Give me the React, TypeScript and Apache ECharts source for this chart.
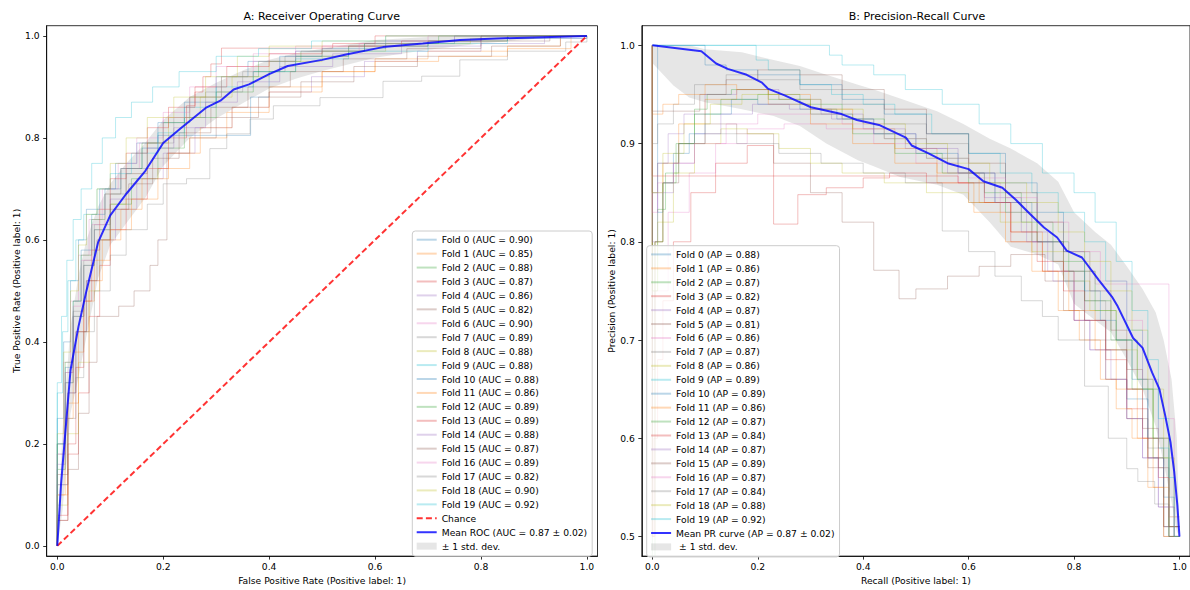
import React, { useEffect, useRef } from "react";
import * as echarts from "echarts";

// matplotlib tab10 cycle used for the per-fold curves
const TAB10 = ["#1f77b4", "#ff7f0e", "#2ca02c", "#d62728", "#9467bd", "#8c564b", "#e377c2", "#7f7f7f", "#bcbd22", "#17becf"];

const rocFoldAuc = [0.90, 0.85, 0.88, 0.87, 0.86, 0.82, 0.90, 0.89, 0.88, 0.88, 0.88, 0.86, 0.89, 0.89, 0.88, 0.87, 0.89, 0.82, 0.90, 0.92];
const prFoldAp = [0.88, 0.86, 0.87, 0.82, 0.87, 0.81, 0.86, 0.87, 0.86, 0.89, 0.89, 0.86, 0.87, 0.84, 0.87, 0.89, 0.87, 0.84, 0.88, 0.92];
const meanAuc = 0.87;
const stdAuc = 0.02;
const meanAp = 0.87;
const stdAp = 0.02;

// ROC vertices per fold: [fpr, tpr]; drawn as a staircase (step "end")
const rocFoldCurves: number[][][] = [
  [[0,0],[0,0.25],[0.012,0.4],[0.025,0.52],[0.04,0.6],[0.055,0.66],[0.08,0.7],[0.11,0.75],[0.15,0.79],[0.19,0.83],[0.24,0.87],[0.3,0.92],[0.36,0.95],[0.45,0.97],[0.58,0.985],[0.75,1],[1,1]],
  [[0,0],[0,0.1],[0.015,0.25],[0.03,0.38],[0.05,0.48],[0.07,0.56],[0.1,0.62],[0.14,0.68],[0.19,0.74],[0.25,0.8],[0.32,0.85],[0.4,0.89],[0.5,0.93],[0.6,0.955],[0.7,0.97],[0.85,0.98],[0.95,1],[1,1]],
  [[0,0],[0,0.15],[0.015,0.32],[0.03,0.45],[0.05,0.55],[0.07,0.62],[0.1,0.67],[0.14,0.72],[0.19,0.78],[0.24,0.84],[0.3,0.89],[0.37,0.93],[0.45,0.96],[0.55,0.98],[0.7,0.99],[0.85,1],[1,1]],
  [[0,0],[0,0.05],[0.02,0.18],[0.04,0.3],[0.06,0.45],[0.08,0.55],[0.1,0.62],[0.13,0.68],[0.17,0.74],[0.21,0.8],[0.244,0.863],[0.26,0.89],[0.275,0.92],[0.29,0.945],[0.31,0.976],[0.52,0.985],[0.6,1],[1,1]],
  [[0,0],[0,0.12],[0.02,0.3],[0.035,0.42],[0.055,0.52],[0.08,0.6],[0.11,0.66],[0.15,0.72],[0.2,0.77],[0.26,0.82],[0.33,0.86],[0.4,0.89],[0.48,0.92],[0.58,0.95],[0.68,0.97],[0.8,0.985],[0.92,1],[1,1]],
  [[0,0],[0,0.05],[0.02,0.15],[0.04,0.26],[0.06,0.36],[0.075,0.45],[0.116,0.47],[0.145,0.5],[0.175,0.55],[0.19,0.6],[0.207,0.77],[0.25,0.8],[0.3,0.84],[0.38,0.88],[0.46,0.91],[0.56,0.94],[0.68,0.96],[0.82,0.98],[0.95,1],[1,1]],
  [[0,0],[0,0.2],[0.012,0.36],[0.025,0.48],[0.04,0.57],[0.06,0.64],[0.085,0.7],[0.115,0.75],[0.15,0.8],[0.2,0.85],[0.25,0.9],[0.3,0.94],[0.37,0.965],[0.45,0.98],[0.6,0.99],[0.75,1],[1,1]],
  [[0,0],[0,0.18],[0.015,0.34],[0.03,0.46],[0.05,0.56],[0.07,0.63],[0.1,0.69],[0.13,0.74],[0.17,0.79],[0.22,0.84],[0.28,0.89],[0.35,0.93],[0.43,0.96],[0.55,0.98],[0.7,0.99],[0.85,1],[1,1]],
  [[0,0],[0,0.08],[0.02,0.22],[0.04,0.36],[0.06,0.5],[0.08,0.6],[0.1,0.67],[0.13,0.73],[0.17,0.79],[0.21,0.84],[0.27,0.88],[0.33,0.92],[0.4,0.95],[0.5,0.97],[0.62,0.985],[0.78,0.995],[0.9,1],[1,1]],
  [[0,0],[0,0.3],[0.01,0.42],[0.02,0.52],[0.035,0.6],[0.05,0.65],[0.075,0.7],[0.1,0.73],[0.14,0.77],[0.19,0.81],[0.24,0.86],[0.3,0.9],[0.37,0.93],[0.45,0.955],[0.55,0.97],[0.7,0.985],[0.85,0.995],[1,1]],
  [[0,0],[0,0.2],[0.015,0.35],[0.03,0.48],[0.045,0.58],[0.065,0.65],[0.09,0.7],[0.12,0.74],[0.16,0.78],[0.19,0.805],[0.365,0.88],[0.4,0.93],[0.42,0.96],[0.5,0.975],[0.62,0.99],[0.8,1],[1,1]],
  [[0,0],[0,0.1],[0.02,0.28],[0.04,0.42],[0.06,0.52],[0.085,0.6],[0.12,0.66],[0.16,0.72],[0.21,0.77],[0.27,0.82],[0.33,0.86],[0.4,0.9],[0.5,0.93],[0.6,0.95],[0.72,0.96],[0.85,0.975],[0.97,1],[1,1]],
  [[0,0],[0,0.2],[0.015,0.36],[0.03,0.48],[0.045,0.57],[0.065,0.64],[0.09,0.69],[0.12,0.74],[0.16,0.79],[0.2,0.83],[0.25,0.88],[0.31,0.92],[0.38,0.95],[0.46,0.97],[0.58,0.985],[0.72,1],[1,1]],
  [[0,0],[0,0.06],[0.02,0.2],[0.035,0.35],[0.05,0.48],[0.065,0.58],[0.08,0.66],[0.1,0.72],[0.13,0.77],[0.17,0.82],[0.21,0.86],[0.26,0.9],[0.32,0.94],[0.4,0.965],[0.5,0.98],[0.65,0.99],[0.8,1],[1,1]],
  [[0,0],[0,0.16],[0.015,0.32],[0.03,0.45],[0.05,0.55],[0.07,0.62],[0.1,0.68],[0.13,0.73],[0.17,0.78],[0.22,0.82],[0.28,0.87],[0.34,0.91],[0.42,0.94],[0.52,0.965],[0.65,0.98],[0.8,0.995],[1,1]],
  [[0,0],[0,0.14],[0.02,0.3],[0.035,0.42],[0.055,0.52],[0.075,0.6],[0.1,0.66],[0.135,0.71],[0.18,0.76],[0.23,0.81],[0.29,0.86],[0.36,0.9],[0.44,0.93],[0.54,0.955],[0.66,0.975],[0.8,0.99],[0.93,1],[1,1]],
  [[0,0],[0,0.18],[0.015,0.34],[0.03,0.47],[0.045,0.56],[0.065,0.63],[0.09,0.69],[0.12,0.74],[0.155,0.79],[0.2,0.84],[0.25,0.88],[0.31,0.92],[0.37,0.95],[0.45,0.97],[0.57,0.985],[0.7,1],[1,1]],
  [[0,0],[0,0.12],[0.02,0.25],[0.035,0.33],[0.05,0.42],[0.07,0.5],[0.1,0.57],[0.13,0.62],[0.17,0.67],[0.2,0.71],[0.244,0.72],[0.288,0.779],[0.32,0.808],[0.364,0.837],[0.408,0.863],[0.496,0.879],[0.615,0.911],[0.688,0.921],[0.76,0.953],[0.85,0.97],[0.96,0.988],[1,1]],
  [[0,0],[0,0.22],[0.012,0.38],[0.025,0.5],[0.04,0.59],[0.055,0.65],[0.075,0.7],[0.1,0.75],[0.13,0.8],[0.17,0.84],[0.22,0.88],[0.28,0.92],[0.34,0.96],[0.4,0.98],[0.5,0.99],[0.62,1],[1,1]],
  [[0,0],[0,0.32],[0.008,0.45],[0.018,0.56],[0.03,0.64],[0.045,0.7],[0.065,0.75],[0.085,0.8],[0.11,0.84],[0.14,0.87],[0.18,0.9],[0.23,0.93],[0.3,0.96],[0.38,0.975],[0.48,0.99],[0.62,1],[1,1]],
];

// Mean ROC curve
const rocMeanFpr = [0, 0.007, 0.025, 0.04, 0.055, 0.077, 0.1, 0.13, 0.166, 0.2, 0.232, 0.282, 0.308, 0.333, 0.362, 0.4, 0.435, 0.5, 0.543, 0.615, 0.69, 0.76, 0.83, 1];
const rocMeanTpr = [0, 0.12, 0.345, 0.43, 0.5, 0.595, 0.648, 0.69, 0.735, 0.79, 0.818, 0.86, 0.873, 0.895, 0.905, 0.925, 0.941, 0.953, 0.963, 0.978, 0.985, 0.992, 0.995, 1];

// ±1 std. dev. band around the mean ROC
const rocBandFpr = [0, 0.01, 0.025, 0.04, 0.055, 0.077, 0.1, 0.13, 0.166, 0.2, 0.25, 0.3, 0.35, 0.4, 0.45, 0.5, 0.6, 0.7, 0.8, 0.9, 1];
const rocBandUpper = [0, 0.23, 0.43, 0.53, 0.6, 0.665, 0.71, 0.75, 0.79, 0.835, 0.88, 0.908, 0.932, 0.953, 0.966, 0.975, 0.992, 0.998, 1, 1, 1];
const rocBandLower = [0, 0.07, 0.26, 0.33, 0.41, 0.525, 0.59, 0.632, 0.682, 0.745, 0.8, 0.838, 0.868, 0.897, 0.916, 0.931, 0.957, 0.973, 0.985, 0.994, 1];

// Precision-recall vertices per fold: [recall, precision]; drawn as a staircase (step "start")
const prFoldCurves: number[][][] = [
  [[0,1],[0.01,1],[0.02,0.83],[0.04,0.86],[0.07,0.89],[0.1,0.91],[0.15,0.93],[0.2,0.945],[0.28,0.94],[0.35,0.935],[0.42,0.925],[0.5,0.91],[0.58,0.89],[0.65,0.87],[0.72,0.84],[0.78,0.8],[0.82,0.76],[0.86,0.72],[0.9,0.69],[0.94,0.64],[0.97,0.58],[1,0.51]],
  [[0,1],[0.005,0.5],[0.02,0.8],[0.05,0.88],[0.1,0.92],[0.16,0.945],[0.22,0.955],[0.3,0.95],[0.38,0.935],[0.46,0.915],[0.54,0.895],[0.62,0.87],[0.68,0.84],[0.74,0.81],[0.79,0.77],[0.84,0.73],[0.88,0.69],[0.92,0.65],[0.95,0.6],[0.98,0.55],[1,0.5]],
  [[0,1],[0.01,0.75],[0.025,0.833],[0.05,0.87],[0.08,0.9],[0.104,0.935],[0.15,0.95],[0.22,0.955],[0.3,0.945],[0.38,0.93],[0.46,0.91],[0.55,0.89],[0.63,0.87],[0.7,0.85],[0.76,0.82],[0.82,0.78],[0.87,0.74],[0.91,0.7],[0.95,0.65],[0.98,0.58],[1,0.5]],
  [[0,1],[0.003,0.5],[0.01,0.6],[0.02,0.68],[0.04,0.74],[0.073,0.8],[0.12,0.85],[0.18,0.88],[0.23,0.898],[0.276,0.818],[0.33,0.848],[0.4,0.855],[0.45,0.865],[0.52,0.87],[0.6,0.86],[0.68,0.84],[0.74,0.8],[0.8,0.77],[0.86,0.72],[0.9,0.68],[0.94,0.63],[0.97,0.58],[1,0.51]],
  [[0,1],[0.01,0.85],[0.03,0.88],[0.06,0.91],[0.1,0.93],[0.16,0.95],[0.24,0.955],[0.32,0.945],[0.4,0.93],[0.48,0.915],[0.56,0.895],[0.63,0.87],[0.7,0.845],[0.75,0.81],[0.8,0.77],[0.83,0.72],[0.86,0.69],[0.9,0.66],[0.93,0.62],[0.96,0.58],[0.99,0.53],[1,0.5]],
  [[0,1],[0.005,0.67],[0.02,0.8],[0.05,0.86],[0.1,0.9],[0.16,0.92],[0.23,0.91],[0.3,0.88],[0.36,0.85],[0.42,0.82],[0.468,0.771],[0.5,0.742],[0.56,0.752],[0.62,0.765],[0.68,0.775],[0.745,0.787],[0.78,0.76],[0.82,0.73],[0.86,0.7],[0.9,0.66],[0.94,0.62],[0.97,0.57],[1,0.5]],
  [[0,1],[0.005,0.5],[0.03,0.75],[0.07,0.83],[0.12,0.87],[0.18,0.9],[0.25,0.915],[0.33,0.92],[0.42,0.915],[0.5,0.9],[0.58,0.88],[0.66,0.86],[0.72,0.83],[0.78,0.8],[0.84,0.77],[0.92,0.757],[0.98,0.757],[0.99,0.62],[1,0.5]],
  [[0,1],[0.01,0.9],[0.04,0.92],[0.08,0.94],[0.14,0.96],[0.2,0.97],[0.28,0.965],[0.36,0.955],[0.44,0.94],[0.52,0.92],[0.6,0.9],[0.67,0.87],[0.73,0.84],[0.78,0.8],[0.82,0.77],[0.86,0.74],[0.9,0.7],[0.94,0.65],[0.97,0.59],[1,0.51]],
  [[0,1],[0.01,0.75],[0.04,0.82],[0.08,0.87],[0.13,0.9],[0.18,0.915],[0.24,0.91],[0.3,0.895],[0.36,0.88],[0.44,0.87],[0.52,0.86],[0.6,0.85],[0.66,0.84],[0.72,0.82],[0.78,0.79],[0.83,0.76],[0.88,0.73],[0.92,0.69],[0.95,0.65],[0.98,0.6],[1,0.52]],
  [[0,1],[0.197,1],[0.22,0.985],[0.28,0.975],[0.34,0.96],[0.4,0.95],[0.46,0.94],[0.53,0.93],[0.6,0.91],[0.66,0.89],[0.72,0.87],[0.77,0.85],[0.82,0.83],[0.86,0.8],[0.9,0.76],[0.93,0.71],[0.96,0.65],[0.98,0.59],[1,0.5]],
  [[0,1],[0.1,1],[0.14,0.98],[0.2,0.975],[0.28,0.97],[0.36,0.96],[0.44,0.945],[0.52,0.93],[0.6,0.91],[0.67,0.89],[0.73,0.86],[0.78,0.83],[0.82,0.79],[0.85,0.75],[0.88,0.72],[0.91,0.7],[0.94,0.66],[0.97,0.6],[0.99,0.54],[1,0.5]],
  [[0,1],[0.02,0.93],[0.05,0.94],[0.1,0.95],[0.16,0.96],[0.22,0.955],[0.3,0.94],[0.38,0.92],[0.46,0.9],[0.54,0.88],[0.61,0.86],[0.67,0.83],[0.72,0.8],[0.77,0.77],[0.81,0.73],[0.85,0.7],[0.88,0.66],[0.91,0.63],[0.94,0.6],[0.97,0.55],[1,0.5]],
  [[0,1],[0.005,0.33],[0.02,0.8],[0.045,0.86],[0.08,0.9],[0.13,0.93],[0.2,0.945],[0.28,0.95],[0.36,0.94],[0.44,0.925],[0.52,0.905],[0.6,0.885],[0.67,0.86],[0.73,0.83],[0.79,0.8],[0.84,0.77],[0.88,0.73],[0.92,0.7],[0.95,0.66],[0.98,0.6],[1,0.51]],
  [[0,1],[0.58,0.867],[0.63,0.86],[0.68,0.84],[0.73,0.81],[0.78,0.78],[0.82,0.75],[0.86,0.72],[0.9,0.69],[0.93,0.65],[0.96,0.6],[0.98,0.56],[1,0.51]],
  [[0,1],[0.01,0.8],[0.04,0.85],[0.08,0.88],[0.13,0.91],[0.19,0.93],[0.26,0.94],[0.34,0.935],[0.42,0.925],[0.5,0.91],[0.58,0.895],[0.65,0.87],[0.71,0.84],[0.76,0.8],[0.8,0.76],[0.83,0.72],[0.87,0.69],[0.9,0.66],[0.93,0.62],[0.96,0.58],[0.99,0.53],[1,0.5]],
  [[0,1],[0.09,0.933],[0.14,0.95],[0.2,0.965],[0.28,0.975],[0.36,0.97],[0.44,0.955],[0.52,0.935],[0.6,0.91],[0.67,0.88],[0.73,0.85],[0.78,0.82],[0.83,0.79],[0.87,0.75],[0.9,0.71],[0.93,0.67],[0.96,0.61],[0.98,0.57],[1,0.5]],
  [[0,1],[0.01,0.83],[0.04,0.86],[0.08,0.88],[0.14,0.9],[0.2,0.92],[0.28,0.93],[0.36,0.93],[0.44,0.92],[0.52,0.905],[0.6,0.885],[0.67,0.865],[0.73,0.845],[0.79,0.82],[0.85,0.79],[0.9,0.76],[0.93,0.72],[0.96,0.66],[0.98,0.6],[1,0.52]],
  [[0,1],[0.01,0.85],[0.05,0.88],[0.1,0.9],[0.16,0.91],[0.24,0.9],[0.32,0.89],[0.4,0.88],[0.48,0.87],[0.55,0.86],[0.6,0.811],[0.65,0.79],[0.7,0.765],[0.74,0.74],[0.77,0.724],[0.82,0.7],[0.865,0.653],[0.9,0.6],[0.921,0.569],[0.953,0.556],[0.98,0.533],[1,0.5]],
  [[0,1],[0.02,0.85],[0.06,0.89],[0.11,0.92],[0.17,0.94],[0.24,0.95],[0.32,0.945],[0.4,0.935],[0.48,0.92],[0.56,0.9],[0.64,0.88],[0.71,0.86],[0.77,0.84],[0.82,0.81],[0.87,0.78],[0.91,0.75],[0.94,0.71],[0.97,0.65],[0.99,0.58],[1,0.5]],
  [[0,1],[0.336,1],[0.36,0.99],[0.42,0.98],[0.48,0.97],[0.55,0.955],[0.62,0.94],[0.68,0.92],[0.74,0.9],[0.8,0.87],[0.84,0.85],[0.88,0.82],[0.91,0.78],[0.94,0.73],[0.96,0.68],[0.98,0.62],[0.99,0.56],[1,0.5]],
];

// Mean precision-recall curve
const prMeanRecall = [0, 0.093, 0.121, 0.143, 0.179, 0.208, 0.219, 0.251, 0.301, 0.359, 0.388, 0.43, 0.481, 0.492, 0.524, 0.56, 0.6, 0.628, 0.664, 0.689, 0.717, 0.743, 0.768, 0.786, 0.815, 0.847, 0.872, 0.883, 0.912, 0.93, 0.948, 0.962, 0.973, 0.983, 0.99, 0.996, 1.0];
const prMeanPrecision = [1, 0.994, 0.9815, 0.976, 0.97, 0.962, 0.956, 0.949, 0.937, 0.93, 0.924, 0.919, 0.906, 0.898, 0.89, 0.88, 0.874, 0.8616, 0.855, 0.843, 0.828, 0.8145, 0.8044, 0.791, 0.784, 0.761, 0.744, 0.734, 0.702, 0.692, 0.667, 0.65, 0.623, 0.596, 0.566, 0.532, 0.5];

// ±1 std. dev. band around the mean precision-recall curve
const prBandRecall = [0, 0.04, 0.07, 0.1, 0.17, 0.23, 0.28, 0.33, 0.39, 0.42, 0.47, 0.54, 0.59, 0.64, 0.68, 0.73, 0.77, 0.8, 0.84, 0.87, 0.9, 0.93, 0.955, 0.97, 0.985, 0.995, 1];
const prBandUpper = [1, 1, 1, 0.996, 0.993, 0.985, 0.979, 0.97, 0.96, 0.955, 0.946, 0.933, 0.92, 0.905, 0.895, 0.88, 0.861, 0.83, 0.81, 0.797, 0.775, 0.752, 0.728, 0.7, 0.66, 0.6, 0.5];
const prBandLower = [0.982, 0.959, 0.947, 0.942, 0.935, 0.928, 0.918, 0.9, 0.883, 0.877, 0.866, 0.858, 0.848, 0.82, 0.795, 0.787, 0.777, 0.737, 0.72, 0.708, 0.68, 0.65, 0.612, 0.575, 0.535, 0.505, 0.5];

const unitTicks = [0, 0.2, 0.4, 0.6, 0.8, 1.0];
const precisionTicks = [0.5, 0.6, 0.7, 0.8, 0.9, 1.0];

const FONT = "DejaVu Sans";
const BAND = "rgba(128,128,128,0.2)";
const MEAN_COLOR = "rgba(0,0,255,0.8)";
const CHANCE_COLOR = "rgba(255,0,0,0.8)";

function withAlpha(hex: string, a: number) {
  const n = parseInt(hex.slice(1), 16);
  return `rgba(${(n >> 16) & 255},${(n >> 8) & 255},${n & 255},${a})`;
}

const tickFmt = (v: number) => v.toFixed(1);

function valueAxis(gridIndex: number, min: number, max: number, ticks: number[], name: string, isY: boolean) {
  return {
    type: "value",
    gridIndex,
    min,
    max,
    name,
    nameLocation: "middle",
    nameGap: isY ? 25 : 18,
    nameRotate: isY ? 90 : 0,
    nameTextStyle: { fontFamily: FONT, fontSize: 9.2, color: "#000" },
    axisLine: { show: true, onZero: false, lineStyle: { color: "#000", width: 0.8 } },
    axisTick: { show: true, inside: false, length: 3.5, lineStyle: { color: "#000", width: 0.8 }, customValues: ticks },
    axisLabel: {
      show: true,
      customValues: ticks,
      formatter: tickFmt,
      margin: isY ? 7 : 6,
      fontFamily: FONT,
      fontSize: 9.2,
      color: "#000",
    },
    splitLine: { show: false },
  };
}

function bandSeries(name: string, xs: number[], lo: number[], hi: number[], idx: number) {
  return {
    type: "custom",
    name,
    xAxisIndex: idx,
    yAxisIndex: idx,
    silent: true,
    itemStyle: { color: BAND },
    data: [[xs[0], lo[0]]],
    renderItem: (_params: any, api: any) => {
      const pts: number[][] = [];
      for (let i = 0; i < xs.length; i++) pts.push(api.coord([xs[i], hi[i]]));
      for (let i = xs.length - 1; i >= 0; i--) pts.push(api.coord([xs[i], lo[i]]));
      return { type: "polygon", shape: { points: pts }, style: { fill: BAND, stroke: "none" } };
    },
  };
}

function legendBox(left: number, top: number, names: any[]) {
  return {
    orient: "vertical",
    left,
    top,
    data: names,
    itemWidth: 20,
    itemHeight: 11,
    itemGap: 2.93,
    padding: [3.2, 5, 4.5, 3.4],
    backgroundColor: "rgba(255,255,255,0.8)",
    borderColor: "#cccccc",
    borderWidth: 1,
    borderRadius: 3,
    selectedMode: false,
    itemStyle: { opacity: 0 },
    textStyle: { fontFamily: FONT, fontSize: 9.2, color: "#000", lineHeight: 11 },
  };
}

function buildOption() {
  const series: any[] = [];
  const rocNames: any[] = [];
  const prNames: any[] = [];

  rocFoldCurves.forEach((curve, i) => {
    const name = `Fold ${i} (AUC = ${rocFoldAuc[i].toFixed(2)})`;
    const c = withAlpha(TAB10[i % 10], 0.3);
    rocNames.push(name);
    series.push({
      type: "line", name, xAxisIndex: 0, yAxisIndex: 0, data: curve, step: "end",
      symbol: "none", silent: true, lineStyle: { color: c, width: 1 }, itemStyle: { color: c },
    });
  });
  series.push({
    type: "line", name: "Chance", xAxisIndex: 0, yAxisIndex: 0, data: [[0, 0], [1, 1]],
    symbol: "none", silent: true,
    lineStyle: { color: CHANCE_COLOR, width: 2, type: [6, 3.2] }, itemStyle: { color: CHANCE_COLOR },
  });
  rocNames.push("Chance");
  const rocMeanName = `Mean ROC (AUC = ${meanAuc.toFixed(2)} ± ${stdAuc.toFixed(2)})`;
  series.push({
    type: "line", name: rocMeanName, xAxisIndex: 0, yAxisIndex: 0,
    data: rocMeanFpr.map((x, i) => [x, rocMeanTpr[i]]),
    symbol: "none", silent: true, lineStyle: { color: MEAN_COLOR, width: 2 }, itemStyle: { color: MEAN_COLOR },
  });
  rocNames.push(rocMeanName);
  series.push(bandSeries("± 1 std. dev.", rocBandFpr, rocBandLower, rocBandUpper, 0));
  rocNames.push({ name: "± 1 std. dev.", icon: "path://M0,0h20v7h-20z", itemStyle: { color: BAND, opacity: 1 } });

  prFoldCurves.forEach((curve, i) => {
    const name = `Fold ${i} (AP = ${prFoldAp[i].toFixed(2)})`;
    const c = withAlpha(TAB10[i % 10], 0.3);
    prNames.push(name);
    series.push({
      type: "line", name, xAxisIndex: 1, yAxisIndex: 1, data: curve, step: "start",
      symbol: "none", silent: true, lineStyle: { color: c, width: 1 }, itemStyle: { color: c },
    });
  });
  const prMeanName = `Mean PR curve (AP = ${meanAp.toFixed(2)} ± ${stdAp.toFixed(2)})`;
  series.push({
    type: "line", name: prMeanName, xAxisIndex: 1, yAxisIndex: 1,
    data: prMeanRecall.map((x, i) => [x, prMeanPrecision[i]]),
    symbol: "none", silent: true, lineStyle: { color: MEAN_COLOR, width: 2 }, itemStyle: { color: MEAN_COLOR },
  });
  prNames.push(prMeanName);
  series.push(bandSeries(" ± 1 std. dev.", prBandRecall, prBandLower, prBandUpper, 1));
  prNames.push({ name: " ± 1 std. dev.", icon: "path://M0,0h20v7h-20z", itemStyle: { color: BAND, opacity: 1 } });

  return {
    animation: false,
    backgroundColor: "#ffffff",
    grid: [
      { left: 46.7, top: 25.7, width: 550.8, height: 536, show: true, borderColor: "#000", borderWidth: 0.8, backgroundColor: "transparent" },
      { left: 641.8, top: 25.7, width: 550.6, height: 536, show: true, borderColor: "#000", borderWidth: 0.8, backgroundColor: "transparent" },
    ],
    xAxis: [
      valueAxis(0, -0.02, 1.02, unitTicks, "False Positive Rate (Positive label: 1)", false),
      valueAxis(1, -0.02, 1.02, unitTicks, "Recall (Positive label: 1)", false),
    ],
    yAxis: [
      valueAxis(0, -0.02, 1.02, unitTicks, "True Positive Rate (Positive label: 1)", true),
      valueAxis(1, 0.48, 1.02, precisionTicks, "Precision (Positive label: 1)", true),
    ],
    legend: [legendBox(412.3, 231, rocNames), legendBox(646.7, 245.7, prNames)],
    graphic: [
      {
        type: "text", x: 321.7, y: 16.7, silent: true,
        style: { text: "A: Receiver Operating Curve", font: `11px '${FONT}'`, fill: "#000", textAlign: "center", textVerticalAlign: "middle" },
      },
      {
        type: "text", x: 917, y: 16.7, silent: true,
        style: { text: "B: Precision-Recall Curve", font: `11px '${FONT}'`, fill: "#000", textAlign: "center", textVerticalAlign: "middle" },
      },
    ],
    series,
  };
}

export default function App() {
  const ref = useRef<HTMLDivElement>(null);
  useEffect(() => {
    if (!ref.current) return;
    const chart = echarts.init(ref.current, null, { renderer: "svg" });
    chart.setOption(buildOption() as any);
    return () => chart.dispose();
  }, []);
  return <div ref={ref} style={{ position: "absolute", left: 0, top: 0, width: 1190, height: 590 }} />;
}
